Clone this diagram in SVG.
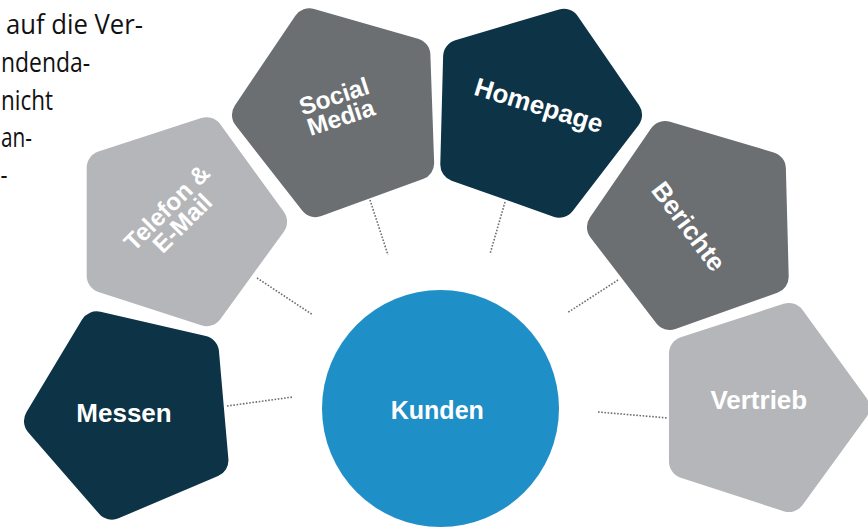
<svg xmlns="http://www.w3.org/2000/svg" width="868" height="527" viewBox="0 0 868 527">
<style>
.navy{fill:#0d3347}
.dgray{fill:#6b6f72}
.lgray{fill:#b5b6b9}
.hub{fill:#1f8fc8}
.lbl{font-family:"Liberation Sans",Arial,sans-serif;font-weight:bold;fill:#ffffff;text-anchor:middle}
.para{font-family:"Open Sans","Noto Sans",sans-serif;font-size:28px;fill:#111111}
.conn{fill:none;stroke:#6f6f6f;stroke-width:1.6;stroke-dasharray:1.6 1.6}
</style>
<defs>
<path id="pent" d="M105.74,9.99 L42.18,97.48 A17,17 0 0 1 23.17,103.65 L-79.67,70.24 A17,17 0 0 1 -91.42,54.07 L-91.42,-54.07 A17,17 0 0 1 -79.67,-70.24 L23.17,-103.65 A17,17 0 0 1 42.18,-97.48 L105.74,-9.99 A17,17 0 0 1 105.74,9.99 Z"/>
</defs>
<rect width="868" height="527" fill="#ffffff"/>
<g id="paragraph">
<text class="para" x="6" y="34" textLength="137" lengthAdjust="spacingAndGlyphs">auf die Ver-</text>
<text class="para" x="1" y="71.5" textLength="89" lengthAdjust="spacingAndGlyphs">ndenda-</text>
<text class="para" x="1" y="110" textLength="52" lengthAdjust="spacingAndGlyphs">nicht</text>
<text class="para" x="1" y="147" textLength="31" lengthAdjust="spacingAndGlyphs">an-</text>
<text class="para" x="0.5" y="184" textLength="7" lengthAdjust="spacingAndGlyphs">-</text>
</g>
<g id="connectors">
<line class="conn" x1="227" y1="406" x2="293" y2="397"/>
<line class="conn" x1="257" y1="278" x2="313" y2="315"/>
<line class="conn" x1="370" y1="200" x2="388" y2="255"/>
<line class="conn" x1="505" y1="202" x2="490" y2="254"/>
<line class="conn" x1="618" y1="280" x2="567" y2="313"/>
<line class="conn" x1="598" y1="412" x2="668" y2="418"/>
</g>
<g id="node-messen">
<use href="#pent" class="navy" transform="translate(132.6,413) rotate(175)"/>
<text class="lbl" x="124" y="421.7" font-size="26">Messen</text>
</g>
<g id="node-telefon">
<use href="#pent" class="lgray" transform="translate(178.1,221.7)"/>
<g transform="translate(174.5,215.3) rotate(-45)">
<text class="lbl" x="0" y="-2.5" font-size="24.5">Telefon &amp;</text>
<text class="lbl" x="0" y="19.5" font-size="24.5">E-Mail</text>
</g>
</g>
<g id="node-social">
<use href="#pent" class="dgray" transform="translate(340.9,111.7) rotate(178)"/>
<g transform="translate(337.5,106.7) rotate(-18)">
<text class="lbl" x="0" y="-2.5" font-size="24.5">Social</text>
<text class="lbl" x="0" y="19.5" font-size="24.5">Media</text>
</g>
</g>
<g id="node-homepage">
<use href="#pent" class="navy" transform="translate(533.1,112.5) rotate(1.5)"/>
<text class="lbl" x="0" y="9.3" font-size="26" transform="translate(539,105) rotate(17)">Homepage</text>
</g>
<g id="node-berichte">
<use href="#pent" class="dgray" transform="translate(695.9,224.7) rotate(178.5)"/>
<text class="lbl" x="0" y="8.5" font-size="26" transform="translate(688.3,226.7) rotate(53)">Berichte</text>
</g>
<g id="node-vertrieb">
<use href="#pent" class="lgray" transform="translate(760.4,407.5)"/>
<text class="lbl" x="758.8" y="409" font-size="26">Vertrieb</text>
</g>
<g id="node-kunden">
<circle class="hub" cx="440.5" cy="408.5" r="118.5"/>
<text class="lbl" x="437.3" y="419.3" font-size="25">Kunden</text>
</g>
</svg>
